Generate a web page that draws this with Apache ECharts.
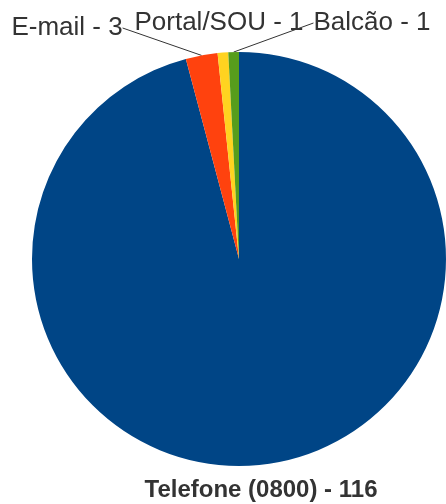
<!DOCTYPE html>
<html><head><meta charset="utf-8">
<script src="https://cdn.jsdelivr.net/npm/echarts@6/dist/echarts.min.js"></script>
<style>html,body{margin:0;padding:0;background:#fff}#c{width:446px;height:504px}</style>
</head><body><div id="c"></div>
<script>
const categories = ['Telefone (0800)', 'E-mail', 'Portal/SOU', 'Balcão'];
const values = [116, 3, 1, 1];
const colors = ['#004586', '#ff420e', '#ffd320', '#579d1c'];
const labelPos = [
  {x: 261, y: 490, align: 'center'},
  {x: 67, y: 28, align: 'center'},
  {x: 219, y: 23, align: 'center'},
  {x: 372, y: 23, align: 'center'}
];
const chart = echarts.init(document.getElementById('c'));
chart.setOption({
  animation: false,
  series: [{
    type: 'pie',
    center: [239, 259],
    radius: 207,
    startAngle: 90,
    clockwise: true,
    avoidLabelOverlap: false,
    data: categories.map((n, i) => ({
      name: n, value: values[i],
      itemStyle: {color: colors[i]},
      label: i === 0 ? {fontWeight: 'bold', fontSize: 24} : {},
      labelLine: {show: i === 1 || i === 3}
    })),
    label: {
      show: true,
      position: 'outside',
      formatter: p => p.name + ' - ' + p.value,
      fontFamily: 'Liberation Sans, Arial, sans-serif',
      fontSize: 26,
      color: '#333'
    },
    labelLine: {show: true, length: 0, length2: 0, lineStyle: {color: '#333', width: 1}},
    labelLayout: p => Object.assign({verticalAlign: 'middle'}, labelPos[p.dataIndex]),
    itemStyle: {borderWidth: 0}
  }]
});
</script></body></html>
